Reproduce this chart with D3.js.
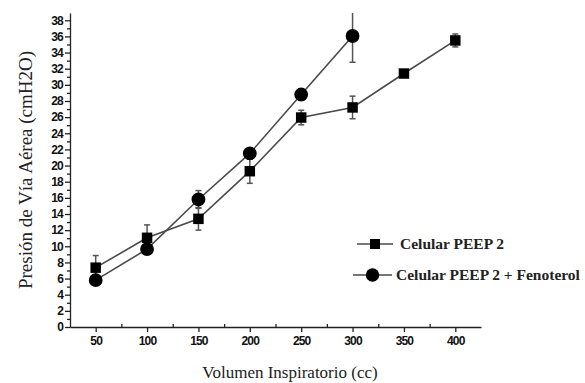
<!DOCTYPE html>
<html>
<head>
<meta charset="utf-8">
<script src="https://cdn.jsdelivr.net/npm/d3@7"></script>
<style>
  body { margin: 0; background: #fff; }
  .tick text { font-family: "Liberation Sans", Arial, sans-serif; font-weight: bold; font-size: 12px; letter-spacing: -0.8px; }
  .serif { font-family: "Liberation Serif", "Times New Roman", serif; }
</style>
</head>
<body>
<div id="chart"></div>
<script>
const volumes = [50, 100, 150, 200, 250, 300, 350, 400];

const peepMean = [7.35, 11.05, 13.4, 19.3, 25.95, 27.2, 31.4, 35.5];
const peepErr  = [1.5, 1.6, 1.4, 1.5, 0.9, 1.4, 0.3, 0.8];

const fenoVolumes = [50, 100, 150, 200, 250, 300];
const fenoMean = [5.8, 9.65, 15.8, 21.5, 28.8, 36.05];
const fenoErr  = [0.3, 0.3, 1.1, 0.3, 0.7, 3.25];

const legendLabels = ["Celular PEEP 2", "Celular PEEP 2 + Fenoterol"];

const width = 585;
const height = 383;
const margin = {top: 13, left: 70, bottom: 56, right: 104};
const iwidth = width - margin.left - margin.right;
const iheight = height - margin.top - margin.bottom;

const svg = d3.select("#chart").append("svg")
    .attr("width", width)
    .attr("height", height);

const g = svg.append("g").attr("transform", `translate(${margin.left},${margin.top})`);

const x = d3.scaleLinear().domain([25, 425]).range([0, iwidth]);
const y = d3.scaleLinear().domain([0, 38.9]).range([iheight, 0]);

svg.append("clipPath").attr("id", "clip")
    .append("rect").attr("width", iwidth).attr("height", iheight);

// axes
g.append("g")
    .attr("transform", `translate(0,${iheight})`)
    .call(d3.axisBottom(x).tickValues(volumes).tickSize(5).tickSizeOuter(0).tickPadding(4));
g.append("g")
    .attr("transform", `translate(0,${iheight})`)
    .call(d3.axisBottom(x).tickValues(d3.range(75, 425, 50)).tickSize(-3).tickSizeOuter(0).tickFormat(""))
    .select(".domain").remove();

g.append("g")
    .call(d3.axisLeft(y).tickValues(d3.range(0, 39, 2)).tickSize(5).tickSizeOuter(0).tickPadding(2));
g.append("g")
    .call(d3.axisLeft(y).tickValues(d3.range(1, 39, 2)).tickSize(3).tickSizeOuter(0).tickFormat(""))
    .select(".domain").remove();

g.selectAll(".domain, .tick line").attr("stroke", "#222").attr("stroke-width", 1.3);
g.selectAll(".tick text").attr("fill", "#111");

const lineColor = "#4a4a4a";

function drawSeries(xs, means, errs, shape) {
    const pts = xs.map((v, i) => ({x: v, m: means[i], e: errs[i]}));
    const layer = g.append("g").attr("clip-path", "url(#clip)");

    layer.append("path")
        .datum(pts)
        .attr("fill", "none")
        .attr("stroke", lineColor)
        .attr("stroke-width", 1.6)
        .attr("d", d3.line().x(d => x(d.x)).y(d => y(d.m)));

    const eb = layer.selectAll(null).data(pts).enter().append("g").attr("stroke", "#555").attr("stroke-width", 1.5);
    eb.append("line")
        .attr("x1", d => x(d.x)).attr("x2", d => x(d.x))
        .attr("y1", d => y(d.m - d.e)).attr("y2", d => y(d.m + d.e));
    eb.append("line")
        .attr("x1", d => x(d.x) - 3).attr("x2", d => x(d.x) + 3)
        .attr("y1", d => y(d.m - d.e)).attr("y2", d => y(d.m - d.e));
    eb.append("line")
        .attr("x1", d => x(d.x) - 3).attr("x2", d => x(d.x) + 3)
        .attr("y1", d => y(d.m + d.e)).attr("y2", d => y(d.m + d.e));

    const sym = d3.symbol().type(shape === "square" ? d3.symbolSquare : d3.symbolCircle)
        .size(shape === "square" ? 110 : 150);
    g.selectAll(null).data(pts).enter().append("path")
        .attr("transform", d => `translate(${x(d.x)},${y(d.m)})`)
        .attr("d", sym)
        .attr("fill", "#000");
}

drawSeries(volumes, peepMean, peepErr, "square");
drawSeries(fenoVolumes, fenoMean, fenoErr, "circle");

// legend
const legend = svg.append("g");
[["square", 244, 357, 393, 400], ["circle", 275, 353, 392, 396]].forEach((l, i) => {
    legend.append("line")
        .attr("x1", l[2]).attr("x2", l[3]).attr("y1", l[1]).attr("y2", l[1])
        .attr("stroke", lineColor).attr("stroke-width", 1.6);
    legend.append("path")
        .attr("transform", `translate(${(l[2] + l[3]) / 2},${l[1]})`)
        .attr("d", d3.symbol().type(i === 0 ? d3.symbolSquare : d3.symbolCircle).size(i === 0 ? 100 : 140))
        .attr("fill", "#000");
    legend.append("text")
        .attr("class", "serif")
        .attr("x", l[4]).attr("y", l[1] + 5)
        .attr("font-size", 15.5)
        .attr("font-weight", "bold")
        .attr("fill", "#222")
        .text(legendLabels[i]);
});

// axis titles
svg.append("text")
    .attr("class", "serif")
    .attr("x", 290).attr("y", 378)
    .attr("text-anchor", "middle")
    .attr("font-size", 17)
    .attr("fill", "#222")
    .text("Volumen Inspiratorio (cc)");

svg.append("text")
    .attr("class", "serif")
    .attr("transform", "translate(32,170) rotate(-90)")
    .attr("text-anchor", "middle")
    .attr("font-size", 19)
    .attr("fill", "#222")
    .text("Presión de Vía Aérea (cmH2O)");
</script>
</body>
</html>
